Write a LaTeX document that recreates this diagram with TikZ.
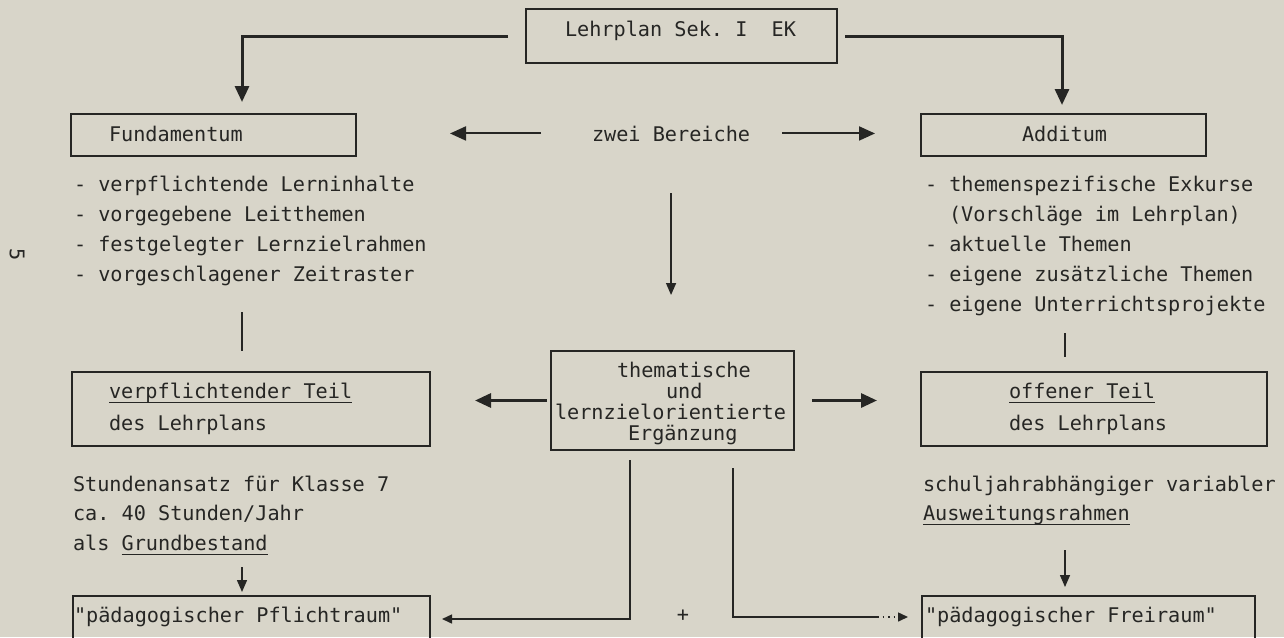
\documentclass[tikz,border=0pt]{standalone}
\usepackage{fontspec}
\setmonofont{DejaVu Sans Mono}
\usetikzlibrary{arrows.meta}
\definecolor{paper}{RGB}{216,213,201}
\definecolor{ink}{RGB}{38,38,36}
\newcommand\uln[1]{\setbox0\hbox{#1}\rlap{\rule[-2.6pt]{\wd0}{0.7pt}}\box0}
\frenchspacing
\begin{document}
\begin{tikzpicture}[x=0.5pt,y=-0.5pt,
  box/.style={draw=ink, line width=1pt, inner sep=0pt, outer sep=0pt, anchor=north west},
  txt/.style={text=ink, inner sep=0pt, outer sep=0pt, anchor=base west, font=\ttfamily\fontsize{10.1}{12}\selectfont},
  heavy/.style={draw=ink, line width=1.5pt},
  conn/.style={draw=ink, line width=1pt},
  thin/.style={draw=ink, line width=0.75pt},
  bighead/.style={-{Triangle[length=8pt,width=7pt]}},
  midhead/.style={-{Triangle[length=6pt,width=5pt]}},
  smallhead/.style={-{Triangle[length=5pt,width=4.5pt]}}]
\fill[paper] (0,0) rectangle (1284,637);
\useasboundingbox (0,0) rectangle (1284,637);
\clip (0,0) rectangle (1284,637);

% boxes
\node[box, minimum width=155.5pt, minimum height=27pt] (lp) at (526,9) {};
\node[box, minimum width=142.5pt, minimum height=21pt] (fund) at (71,114) {};
\node[box, minimum width=142.5pt, minimum height=21pt] (add) at (921,114) {};
\node[box, minimum width=179pt, minimum height=37pt] (vt) at (72,372) {};
\node[box, minimum width=121.5pt, minimum height=49.5pt] (erg) at (551,351) {};
\node[box, minimum width=173pt, minimum height=37pt] (ot) at (921,372) {};
\node[box, minimum width=178.5pt, minimum height=32pt] (pf) at (73,596) {};
\node[box, minimum width=166.5pt, minimum height=32pt] (fr) at (922,596) {};

% texts
\node[txt] (lpt) at (565,36) {Lehrplan Sek. I\ \ EK};
\node[txt] (fundt) at (109,141) {Fundamentum};
\node[txt] (zb) at (592,141) {zwei Bereiche};
\node[txt] (addt) at (1022,141) {Additum};

\node[txt] (f1) at (74,191) {- verpflichtende Lerninhalte};
\node[txt] (f2) at (74,221) {- vorgegebene Leitthemen};
\node[txt] (f3) at (74,251) {- festgelegter Lernzielrahmen};
\node[txt] (f4) at (74,281) {- vorgeschlagener Zeitraster};

\node[txt] (a1) at (925,191) {- themenspezifische Exkurse};
\node[txt] (a2) at (949,221) {(Vorschläge im Lehrplan)};
\node[txt] (a3) at (925,251) {- aktuelle Themen};
\node[txt] (a4) at (925,281) {- eigene zusätzliche Themen};
\node[txt] (a5) at (925,311) {- eigene Unterrichtsprojekte};

\node[txt] (vt1) at (109,398) {\uln{verpflichtender Teil}};
\node[txt] (vt2) at (109,430) {des Lehrplans};

\node[txt] (e1) at (617,377) {thematische};
\node[txt] (e2) at (666,398) {und};
\node[txt] (e3) at (555,419) {lernzielorientierte};
\node[txt] (e4) at (628,440) {Ergänzung};

\node[txt] (ot1) at (1009,398) {\uln{offener Teil}};
\node[txt] (ot2) at (1009,430) {des Lehrplans};

\node[txt] (s1) at (73,491) {Stundenansatz für Klasse 7};
\node[txt] (s2) at (73,520) {ca. 40 Stunden/Jahr};
\node[txt] (s3) at (73,550) {als \uln{Grundbestand}};

\node[txt] (r1) at (923,491) {schuljahrabhängiger variabler};
\node[txt] (r2) at (923,520) {\uln{Ausweitungsrahmen}};

\node[txt] (pft) at (74,622) {"pädagogischer Pflichtraum"};
\node[txt] (frt) at (925,622) {"pädagogischer Freiraum"};

\node[text=ink, inner sep=0pt, font=\ttfamily\fontsize{10.1}{12}\selectfont] (plus) at (683,616) {+};
\node[text=ink, inner sep=0pt, rotate=-90, font=\ttfamily\fontsize{10.1}{12}\selectfont] (pg) at (17,255) {5};

% named coordinates for free ends
\coordinate (fundin) at (242,114);
\coordinate (addin) at (1062,114);
\coordinate (la) at (242,312);
\coordinate (lb) at (242,351);
\coordinate (ra) at (1065,333);
\coordinate (rb) at (1065,357);
\coordinate (dl) at (242,567);
\coordinate (dr) at (1065,550);
\coordinate (bl) at (630,619);
\coordinate (br) at (733,617);
\coordinate (brd) at (877,617);

% connectors
\draw[heavy, bighead, shorten <=9pt, shorten >=6pt] (lp.west) -| (fundin);
\draw[heavy, bighead, shorten <=4pt, shorten >=4.5pt] (lp.east) -| (addin);

\draw[conn, bighead, shorten <=25.5pt, shorten >=47pt] (zb.west) -- (zb.west -| fund.east);
\draw[conn, bighead, shorten <=16pt, shorten >=23pt] (zb.east) -- (zb.east -| add.west);

\draw[thin, midhead, shorten <=26pt, shorten >=28pt] (zb.south) -- (zb.south |- erg.north);

\draw[conn] (la) -- (lb);
\draw[conn] (ra) -- (rb);

\draw[heavy, bighead, shorten <=2pt, shorten >=22.5pt] (erg.west) -- (erg.west -| vt.east);
\draw[heavy, bighead, shorten <=9pt, shorten >=22pt] (erg.east) -- (erg.east -| ot.west);

\draw[thin, midhead, shorten >=2pt] (dl) -- (dl |- pf.north);
\draw[thin, midhead, shorten >=4.5pt] (dr) -- (dr |- fr.north);

\draw[thin, smallhead, shorten <=5pt, shorten >=6pt] (bl |- erg.south) -- (bl) -- (bl -| pf.east);
\draw[thin, shorten <=9pt] (br |- erg.south) -- (br) -- (brd);
\draw[thin, dotted, smallhead, shorten >=7pt] (brd) -- (brd -| fr.west);
\end{tikzpicture}
\end{document}
